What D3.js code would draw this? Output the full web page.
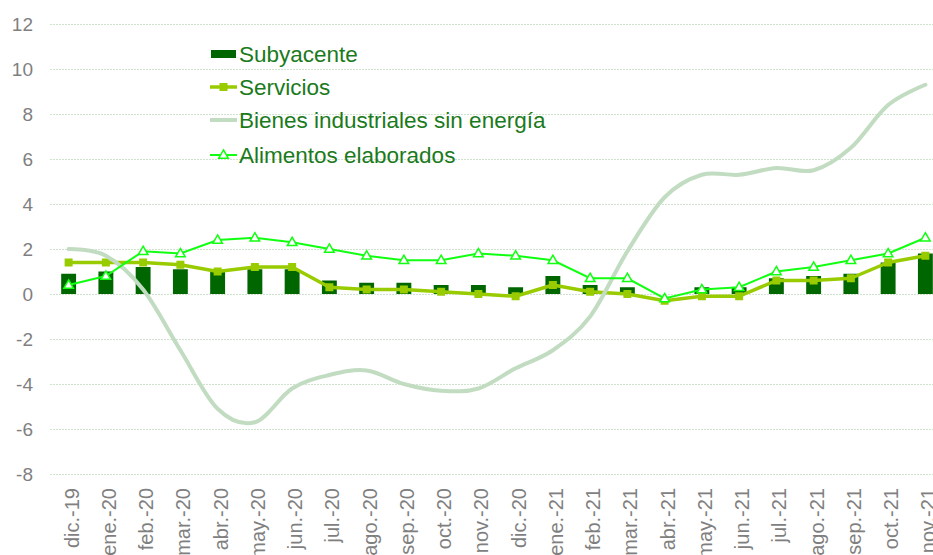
<!DOCTYPE html>
<html>
  <head>
    <meta charset="utf-8">
    <title>Inflación subyacente y componentes</title>
    <script src="https://d3js.org/d3.v7.min.js" charset="utf-8"></script>
    <style>
      body { margin: 0; background: #fff; }
      svg { display: block; font-family: Arial, "Liberation Sans", sans-serif; }
    </style>
  </head>
  <body>
    <svg class="chart"></svg>
    <script>
// months on the x axis
var months = ["dic.-19", "ene.-20", "feb.-20", "mar.-20", "abr.-20", "may.-20", "jun.-20",
  "jul.-20", "ago.-20", "sep.-20", "oct.-20", "nov.-20", "dic.-20", "ene.-21", "feb.-21",
  "mar.-21", "abr.-21", "may.-21", "jun.-21", "jul.-21", "ago.-21", "sep.-21", "oct.-21", "nov.-21"];

// series values
var subyacente = [0.9, 1.0, 1.2, 1.1, 1.0, 1.1, 1.1, 0.6, 0.5, 0.5, 0.4, 0.4,
  0.3, 0.8, 0.4, 0.3, 0.0, 0.3, 0.3, 0.7, 0.8, 0.9, 1.4, 1.8];
var servicios = [1.4, 1.4, 1.4, 1.3, 1.0, 1.2, 1.2, 0.3, 0.2, 0.2, 0.1, 0.0,
  -0.1, 0.4, 0.1, 0.0, -0.3, -0.1, -0.1, 0.6, 0.6, 0.7, 1.4, 1.7];
var bienes = [2.0, 1.7, 0.2, -2.5, -5.1, -5.7, -4.2, -3.6, -3.4, -4.0, -4.3, -4.2,
  -3.3, -2.5, -1.0, 1.9, 4.3, 5.3, 5.3, 5.6, 5.5, 6.5, 8.4, 9.3];
var alimentos = [0.4, 0.8, 1.9, 1.8, 2.4, 2.5, 2.3, 2.0, 1.7, 1.5, 1.5, 1.8,
  1.7, 1.5, 0.7, 0.7, -0.2, 0.2, 0.3, 1.0, 1.2, 1.5, 1.8, 2.5];

var yTicks = [-8, -6, -4, -2, 0, 2, 4, 6, 8, 10, 12];

var legendLabels = ["Subyacente", "Servicios", "Bienes industriales sin energía", "Alimentos elaborados"];

var colors = {
  bar: "#006600",
  serv: "#99cc00",
  bienes: "#c2dcc2",
  alim: "#11ff11",
  grid: "#cfe3cf",
  axis: "#7f7f7f",
  legend: "#1b7a1b"
};

var width = 933, height = 555;

var svg = d3.select("svg.chart")
    .attr("width", width)
    .attr("height", height);

var x = d3.scaleBand()
    .domain(months)
    .range([50, 944])
    .paddingInner(0.6)
    .paddingOuter(0.3);

var y = d3.scaleLinear()
    .domain([-8, 12])
    .range([474, 24]);

function cx(i) { return x(months[i]) + x.bandwidth() / 2; }

// gridlines
svg.append("g").selectAll("line")
    .data(yTicks)
  .enter().append("line")
    .attr("x1", 50)
    .attr("x2", width)
    .attr("y1", function(d) { return y(d) + 0.5; })
    .attr("y2", function(d) { return y(d) + 0.5; })
    .attr("stroke", colors.grid)
    .attr("stroke-width", 1)
    .attr("stroke-dasharray", "2,1");

// y labels
svg.append("g").selectAll("text")
    .data(yTicks)
  .enter().append("text")
    .attr("x", 33)
    .attr("y", function(d) { return y(d); })
    .attr("dy", "0.35em")
    .attr("text-anchor", "end")
    .attr("fill", colors.axis)
    .style("font-size", "19px")
    .text(function(d) { return d; });

// x labels, rotated (the longest ones run off the bottom, as in the original)
svg.append("g").selectAll("text")
    .data(months)
  .enter().append("text")
    .attr("transform", function(d, i) { return "translate(" + cx(i) + ",488)rotate(-90)"; })
    .attr("dy", "0.5em")
    .attr("text-anchor", "end")
    .attr("fill", colors.axis)
    .style("font-size", "20px")
    .text(function(d) { return d; });

// bars
svg.append("g").selectAll("rect")
    .data(subyacente)
  .enter().append("rect")
    .attr("x", function(d, i) { return x(months[i]); })
    .attr("width", x.bandwidth())
    .attr("y", function(d) { return Math.min(y(d), y(0)); })
    .attr("height", function(d) { return Math.abs(y(d) - y(0)); })
    .attr("fill", colors.bar);

// servicios
var straight = d3.line()
    .x(function(d, i) { return cx(i); })
    .y(function(d) { return y(d); });

svg.append("path")
    .attr("d", straight(servicios))
    .attr("fill", "none")
    .attr("stroke", colors.serv)
    .attr("stroke-width", 3.5)
    .attr("stroke-linejoin", "round");

svg.append("g").selectAll("rect")
    .data(servicios)
  .enter().append("rect")
    .attr("x", function(d, i) { return cx(i) - 4; })
    .attr("y", function(d) { return y(d) - 4; })
    .attr("width", 8)
    .attr("height", 8)
    .attr("fill", colors.serv);

// bienes industriales, smoothed like the spreadsheet line
var smooth = d3.line()
    .x(function(d, i) { return cx(i); })
    .y(function(d) { return y(d); })
    .curve(d3.curveCatmullRom.alpha(0));

svg.append("path")
    .attr("d", smooth(bienes))
    .attr("fill", "none")
    .attr("stroke", colors.bienes)
    .attr("stroke-width", 4)
    .attr("stroke-linecap", "round");

// alimentos elaborados
svg.append("path")
    .attr("d", straight(alimentos))
    .attr("fill", "none")
    .attr("stroke", colors.alim)
    .attr("stroke-width", 2);

var tri = d3.symbol().type(d3.symbolTriangle).size(40);

svg.append("g").selectAll("path")
    .data(alimentos)
  .enter().append("path")
    .attr("transform", function(d, i) { return "translate(" + cx(i) + "," + (y(d) + 0.5) + ")"; })
    .attr("d", tri)
    .attr("fill", "#fff")
    .attr("stroke", colors.alim)
    .attr("stroke-width", 1.5);

// legend
var legend = svg.append("g").attr("transform", "translate(210,0)");
var rowsY = [54, 87, 120, 155];

legend.append("rect")
    .attr("x", 1).attr("y", rowsY[0] - 4)
    .attr("width", 25).attr("height", 8)
    .attr("fill", colors.bar);

legend.append("line")
    .attr("x1", 0).attr("x2", 27)
    .attr("y1", rowsY[1]).attr("y2", rowsY[1])
    .attr("stroke", colors.serv).attr("stroke-width", 3.5);
legend.append("rect")
    .attr("x", 9.5).attr("y", rowsY[1] - 4)
    .attr("width", 8).attr("height", 8)
    .attr("fill", colors.serv);

legend.append("line")
    .attr("x1", 0).attr("x2", 27)
    .attr("y1", rowsY[2]).attr("y2", rowsY[2])
    .attr("stroke", colors.bienes).attr("stroke-width", 4);

legend.append("line")
    .attr("x1", 0).attr("x2", 27)
    .attr("y1", rowsY[3]).attr("y2", rowsY[3])
    .attr("stroke", colors.alim).attr("stroke-width", 2);
legend.append("path")
    .attr("transform", "translate(13.5," + (rowsY[3] + 0.5) + ")")
    .attr("d", tri)
    .attr("fill", "#fff")
    .attr("stroke", colors.alim)
    .attr("stroke-width", 1.5);

legend.selectAll("text.lab")
    .data(legendLabels)
  .enter().append("text")
    .attr("class", "lab")
    .attr("x", 29)
    .attr("y", function(d, i) { return rowsY[i]; })
    .attr("dy", "0.35em")
    .attr("fill", colors.legend)
    .style("font-size", "22.5px")
    .text(function(d) { return d; });
    </script>
  </body>
</html>
